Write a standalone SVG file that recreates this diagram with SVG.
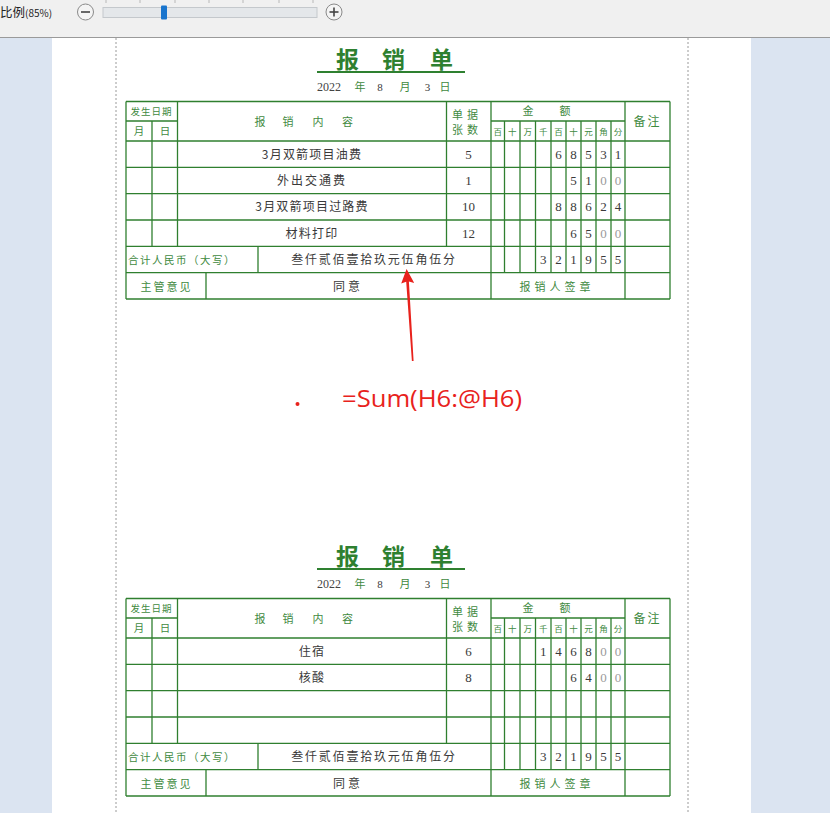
<svg xmlns="http://www.w3.org/2000/svg" xmlns:xlink="http://www.w3.org/1999/xlink" width="830" height="813" viewBox="0 0 830 813">
<style>
.grid line{stroke:#2f7f2f;stroke-width:1.3}
.t{font-family:"Noto Sans CJK SC",sans-serif;fill:#3a3a3a;font-size:12px;text-anchor:middle}
.g{font-family:"Noto Sans CJK SC",sans-serif;fill:#3f8a3f;font-size:10.5px;text-anchor:middle}
.gs{font-family:"Noto Sans CJK SC",sans-serif;fill:#3f8a3f;font-size:8.5px;text-anchor:middle}
.n{font-family:"Liberation Serif",serif;fill:#3a3a3a;font-size:13px;text-anchor:middle}
.z{font-family:"Liberation Serif",serif;fill:#9a9a9a;font-size:13px;text-anchor:middle}
.ttl{font-family:"Noto Sans CJK SC",sans-serif;fill:#2e8030;font-size:23px;font-weight:bold;text-anchor:middle}
</style>
<defs>
<g id="frame">
  <text class="ttl" x="347.5" y="68">报</text>
  <text class="ttl" x="393.5" y="68">销</text>
  <text class="ttl" x="441.5" y="68">单</text>
  <line x1="317" y1="72" x2="465" y2="72" stroke="#2e8030" stroke-width="2"/>
  <text x="317" y="91" style="font-family:'Liberation Serif',serif;font-size:12px;fill:#444">2022</text>
  <text class="g" x="360" y="91" style="font-size:11px">年</text>
  <text class="n" x="380" y="91" style="font-size:11px">8</text>
  <text class="g" x="405" y="91" style="font-size:11px">月</text>
  <text class="n" x="427.5" y="91" style="font-size:11px">3</text>
  <text class="g" x="445" y="91" style="font-size:11px">日</text>
  <g class="grid">
    <line x1="126" y1="101.5" x2="670" y2="101.5"/>
    <line x1="126" y1="121" x2="177.5" y2="121"/>
    <line x1="491" y1="121" x2="625" y2="121"/>
    <line x1="126" y1="141" x2="670" y2="141"/>
    <line x1="126" y1="167.3" x2="670" y2="167.3"/>
    <line x1="126" y1="193.6" x2="670" y2="193.6"/>
    <line x1="126" y1="220" x2="670" y2="220"/>
    <line x1="126" y1="246.3" x2="670" y2="246.3"/>
    <line x1="126" y1="272.7" x2="670" y2="272.7"/>
    <line x1="126" y1="299" x2="670" y2="299"/>
    <line x1="126" y1="101.5" x2="126" y2="299"/>
    <line x1="152" y1="121" x2="152" y2="246.3"/>
    <line x1="177.5" y1="101.5" x2="177.5" y2="246.3"/>
    <line x1="446.5" y1="101.5" x2="446.5" y2="246.3"/>
    <line x1="491" y1="101.5" x2="491" y2="299"/>
    <line x1="504.5" y1="121" x2="504.5" y2="272.7"/>
    <line x1="520" y1="121" x2="520" y2="272.7"/>
    <line x1="535.5" y1="121" x2="535.5" y2="272.7"/>
    <line x1="551" y1="121" x2="551" y2="272.7"/>
    <line x1="566" y1="121" x2="566" y2="272.7"/>
    <line x1="581" y1="121" x2="581" y2="272.7"/>
    <line x1="596" y1="121" x2="596" y2="272.7"/>
    <line x1="611" y1="121" x2="611" y2="272.7"/>
    <line x1="625" y1="101.5" x2="625" y2="299"/>
    <line x1="670" y1="101.5" x2="670" y2="299"/>
    <line x1="258" y1="246.3" x2="258" y2="272.7"/>
    <line x1="206" y1="272.7" x2="206" y2="299"/>
  </g>
  <text class="g" x="151.5" y="114.5" style="font-size:9.5px;letter-spacing:1px">发生日期</text>
  <text class="g" x="139" y="135">月</text>
  <text class="g" x="165" y="135">日</text>
  <text class="g" x="260" y="125.5" style="font-size:11px">报</text>
  <text class="g" x="288" y="125.5" style="font-size:11px">销</text>
  <text class="g" x="318" y="125.5" style="font-size:11px">内</text>
  <text class="g" x="347.5" y="125.5" style="font-size:11px">容</text>
  <text class="g" x="467" y="119" style="font-size:11px;letter-spacing:4px">单据</text>
  <text class="g" x="467" y="134" style="font-size:11px;letter-spacing:4px">张数</text>
  <text class="g" x="528" y="115" style="font-size:11px">金</text>
  <text class="g" x="565" y="115" style="font-size:11px">额</text>
  <text class="gs" x="497.75" y="134.5">百</text>
  <text class="gs" x="512.25" y="134.5">十</text>
  <text class="gs" x="527.75" y="134.5">万</text>
  <text class="gs" x="543.25" y="134.5">千</text>
  <text class="gs" x="558.5" y="134.5">百</text>
  <text class="gs" x="573.5" y="134.5">十</text>
  <text class="gs" x="588.5" y="134.5">元</text>
  <text class="gs" x="603.5" y="134.5">角</text>
  <text class="gs" x="618" y="134.5">分</text>
  <text class="g" x="647.5" y="126" style="font-size:12px;letter-spacing:2px">备注</text>
  <text class="g" x="182" y="264" style="font-size:10.5px;letter-spacing:1.5px">合计人民币（大写）</text>
  <text class="t" x="374" y="264" style="letter-spacing:1.8px">叁仟贰佰壹拾玖元伍角伍分</text>
  <text class="n" x="543.25" y="264">3</text>
  <text class="n" x="558.5" y="264">2</text>
  <text class="n" x="573.5" y="264">1</text>
  <text class="n" x="588.5" y="264">9</text>
  <text class="n" x="603.5" y="264">5</text>
  <text class="n" x="618" y="264">5</text>
  <text class="g" x="166.5" y="290.5" style="font-size:11px;letter-spacing:2px">主管意见</text>
  <text class="t" x="348" y="290.5" style="letter-spacing:3px">同意</text>
  <text class="g" x="557" y="290.5" style="font-size:11px;letter-spacing:4px">报销人签章</text>
</g>
</defs>
<rect x="0" y="0" width="830" height="813" fill="#dbe4f1"/>
<g id="toolbar">
  <rect x="0" y="0" width="830" height="37" fill="#f0f0f0"/>
  <line x1="0" y1="37.5" x2="830" y2="37.5" stroke="#9a9a9a" stroke-width="1"/>
  <text x="0" y="17" style="font-family:'Noto Sans CJK SC',sans-serif;font-size:12.5px;fill:#222">比例<tspan style="font-size:10px">(85%)</tspan></text>
  <circle cx="85.5" cy="12" r="8" fill="#f4f4f4" stroke="#8a8a8a" stroke-width="1"/>
  <line x1="81" y1="12" x2="90" y2="12" stroke="#444" stroke-width="1.6"/>
  <rect x="103" y="7.5" width="214" height="10" fill="#e4e7ea" stroke="#c4c8cc" stroke-width="1"/>
  <g stroke="#b8b8b8" stroke-width="1">
    <line x1="106" y1="0" x2="106" y2="3"/>
    <line x1="140" y1="0" x2="140" y2="3"/>
    <line x1="175" y1="0" x2="175" y2="3"/>
    <line x1="209" y1="0" x2="209" y2="3"/>
    <line x1="243" y1="0" x2="243" y2="3"/>
    <line x1="279" y1="0" x2="279" y2="3"/>
    <line x1="313" y1="0" x2="313" y2="3"/>
  </g>
  <rect x="161" y="5.5" width="6" height="14" rx="1" fill="#1874cd"/>
  <circle cx="334" cy="12" r="8" fill="#f4f4f4" stroke="#8a8a8a" stroke-width="1"/>
  <line x1="329.5" y1="12" x2="338.5" y2="12" stroke="#444" stroke-width="1.6"/>
  <line x1="334" y1="7.5" x2="334" y2="16.5" stroke="#444" stroke-width="1.6"/>
</g>
<g id="page">
  <rect x="52" y="38" width="699" height="775" fill="#ffffff"/>
  <line x1="116" y1="38" x2="116" y2="813" stroke="#9a9a9a" stroke-width="1" stroke-dasharray="2,2"/>
  <line x1="688" y1="38" x2="688" y2="813" stroke="#9a9a9a" stroke-width="1" stroke-dasharray="2,2"/>
</g>
<g id="form1">
  <use xlink:href="#frame"/>
  <text class="t" x="312" y="158.7" style="letter-spacing:1.2px">3月双箭项目油费</text>
  <text class="n" x="468.5" y="158.7">5</text>
  <text class="n" x="558.5" y="158.7">6</text>
  <text class="n" x="573.5" y="158.7">8</text>
  <text class="n" x="588.5" y="158.7">5</text>
  <text class="n" x="603.5" y="158.7">3</text>
  <text class="n" x="618" y="158.7">1</text>
  <text class="t" x="312" y="185" style="letter-spacing:2px">外出交通费</text>
  <text class="n" x="468.5" y="185">1</text>
  <text class="n" x="573.5" y="185">5</text>
  <text class="n" x="588.5" y="185">1</text>
  <text class="z" x="603.5" y="185">0</text>
  <text class="z" x="618" y="185">0</text>
  <text class="t" x="312" y="211.3" style="letter-spacing:1.2px">3月双箭项目过路费</text>
  <text class="n" x="468.5" y="211.3">10</text>
  <text class="n" x="558.5" y="211.3">8</text>
  <text class="n" x="573.5" y="211.3">8</text>
  <text class="n" x="588.5" y="211.3">6</text>
  <text class="n" x="603.5" y="211.3">2</text>
  <text class="n" x="618" y="211.3">4</text>
  <text class="t" x="312" y="237.7" style="letter-spacing:1.2px">材料打印</text>
  <text class="n" x="468.5" y="237.7">12</text>
  <text class="n" x="573.5" y="237.7">6</text>
  <text class="n" x="588.5" y="237.7">5</text>
  <text class="z" x="603.5" y="237.7">0</text>
  <text class="z" x="618" y="237.7">0</text>
</g>
<g id="form2" transform="translate(0,497)">
  <use xlink:href="#frame"/>
  <text class="t" x="312" y="158.7" style="letter-spacing:1.2px">住宿</text>
  <text class="n" x="468.5" y="158.7">6</text>
  <text class="n" x="543.25" y="158.7">1</text>
  <text class="n" x="558.5" y="158.7">4</text>
  <text class="n" x="573.5" y="158.7">6</text>
  <text class="n" x="588.5" y="158.7">8</text>
  <text class="z" x="603.5" y="158.7">0</text>
  <text class="z" x="618" y="158.7">0</text>
  <text class="t" x="312" y="185" style="letter-spacing:1.2px">核酸</text>
  <text class="n" x="468.5" y="185">8</text>
  <text class="n" x="573.5" y="185">6</text>
  <text class="n" x="588.5" y="185">4</text>
  <text class="z" x="603.5" y="185">0</text>
  <text class="z" x="618" y="185">0</text>
</g>
<g id="annotation">
  <polygon points="406.6,269 414.2,283 408.9,281.5 413.6,361 411.9,361 406.2,281.8 401.2,283.5" fill="#e8221c"/>
  <circle cx="297.5" cy="404" r="2" fill="#e8221c"/>
  <text x="342" y="406.5" textLength="180" lengthAdjust="spacingAndGlyphs" style="font-family:'Open Sans',sans-serif;font-size:24px;fill:#e8221c">=Sum(H6:@H6)</text>
</g>
</svg>
